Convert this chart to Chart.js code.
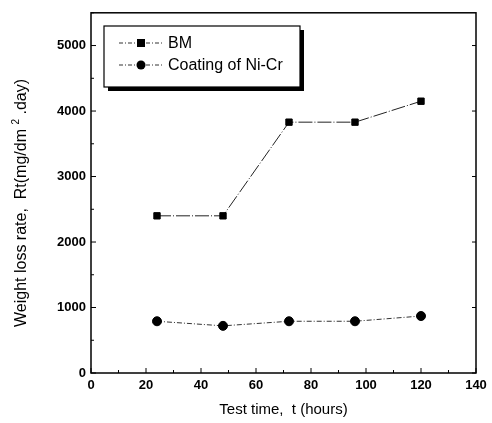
<!DOCTYPE html>
<html>
<head>
<meta charset="utf-8">
<script src="https://cdn.jsdelivr.net/npm/chart.js@4/dist/chart.umd.min.js"></script>
<style>
  html, body { margin: 0; padding: 0; background: #fff; }
  #wrap { width: 492px; height: 423px; }
</style>
</head>
<body>
<div id="wrap"><canvas id="chart" width="492" height="423"></canvas></div>
<script>
const hours = [24, 48, 72, 96, 120];
const bm = [2400, 2400, 3830, 3830, 4150];
const niCr = [790, 720, 790, 790, 870];
const seriesNames = ["BM", "Coating of Ni-Cr"];
const xTicks = [0, 20, 40, 60, 80, 100, 120, 140];
const yTicks = [0, 1000, 2000, 3000, 4000, 5000];

const FONT = "'Liberation Sans', Arial, sans-serif";

// inward tick marks, frame, axis titles and boxed legend
const decor = {
  id: "decor",
  afterDraw(chart) {
    const ctx = chart.ctx;
    const a = chart.chartArea;
    const xs = chart.scales.x;
    const ys = chart.scales.y;
    ctx.save();
    ctx.strokeStyle = "#000";
    ctx.lineWidth = 1.5;
    ctx.strokeRect(a.left, a.top, a.right - a.left, a.bottom - a.top);
    ctx.lineWidth = 1;
    ctx.beginPath();
    for (let i = 0; i < xTicks.length; i++) {
      const px = xs.getPixelForValue(xTicks[i]);
      ctx.moveTo(px, a.bottom); ctx.lineTo(px, a.bottom - 5);
      if (i < xTicks.length - 1) {
        const mx = xs.getPixelForValue((xTicks[i] + xTicks[i + 1]) / 2);
        ctx.moveTo(mx, a.bottom); ctx.lineTo(mx, a.bottom - 3);
      }
    }
    for (let i = 0; i < yTicks.length; i++) {
      const py = ys.getPixelForValue(yTicks[i]);
      ctx.moveTo(a.left, py); ctx.lineTo(a.left + 5, py);
      ctx.moveTo(a.right, py); ctx.lineTo(a.right - 4, py);
      const my = ys.getPixelForValue(yTicks[i] + 500);
      ctx.moveTo(a.left, my); ctx.lineTo(a.left + 3, my);
    }
    ctx.stroke();

    // y title
    ctx.fillStyle = "#000";
    ctx.translate(22, 203);
    ctx.rotate(-Math.PI / 2);
    ctx.font = "16px " + FONT;
    ctx.textBaseline = "middle";
    const p1 = "Weight loss rate,  Rt(mg/dm ";
    const p2 = "2";
    const p3 = " .day)";
    const w1 = ctx.measureText(p1).width;
    const w3 = ctx.measureText(p3).width;
    ctx.font = "10px " + FONT;
    const w2 = ctx.measureText(p2).width;
    let x0 = -(w1 + w2 + w3) / 2;
    ctx.font = "16px " + FONT;
    ctx.textAlign = "left";
    ctx.fillText(p1, x0, 0);
    ctx.font = "10px " + FONT;
    ctx.fillText(p2, x0 + w1, -6);
    ctx.font = "16px " + FONT;
    ctx.fillText(p3, x0 + w1 + w2, 0);
    ctx.restore();

    // legend
    ctx.save();
    const lx = 104, ly = 26, lw = 196, lh = 61;
    ctx.fillStyle = "#000";
    ctx.fillRect(lx + 4, ly + 4, lw, lh);
    ctx.fillStyle = "#fff";
    ctx.fillRect(lx, ly, lw, lh);
    ctx.strokeStyle = "#000";
    ctx.lineWidth = 1.2;
    ctx.strokeRect(lx, ly, lw, lh);
    const rows = [ly + 17, ly + 39];
    chart.data.datasets.forEach((ds, i) => {
      const ry = rows[i];
      ctx.strokeStyle = "#333";
      ctx.lineWidth = 1;
      ctx.setLineDash([4, 2, 1, 2]);
      ctx.beginPath();
      ctx.moveTo(119, ry); ctx.lineTo(163, ry);
      ctx.stroke();
      ctx.setLineDash([]);
      ctx.fillStyle = "#000";
      if (ds.pointStyle === "rect") {
        ctx.fillRect(137, ry - 4, 8, 8);
      } else {
        ctx.beginPath();
        ctx.arc(141, ry, 4.5, 0, Math.PI * 2);
        ctx.fill();
      }
      ctx.font = "16px " + FONT;
      ctx.textBaseline = "middle";
      ctx.textAlign = "left";
      ctx.fillText(ds.label, 168, ry + 1);
    });
    ctx.restore();
  }
};

new Chart(document.getElementById("chart").getContext("2d"), {
  type: "line",
  data: {
    datasets: [
      {
        label: seriesNames[0],
        data: hours.map((h, i) => ({ x: h, y: bm[i] })),
        borderColor: "#222",
        borderWidth: 1,
        borderDash: [14, 2, 1, 2],
        pointStyle: "rect",
        pointRadius: 4.5,
        pointBackgroundColor: "#000",
        pointBorderColor: "#000",
        tension: 0,
        fill: false,
      },
      {
        label: seriesNames[1],
        data: hours.map((h, i) => ({ x: h, y: niCr[i] })),
        borderColor: "#333",
        borderWidth: 1,
        borderDash: [5, 2, 1, 2],
        pointStyle: "circle",
        pointRadius: 4.5,
        pointBackgroundColor: "#000",
        pointBorderColor: "#000",
        tension: 0,
        fill: false,
      },
    ],
  },
  options: {
    responsive: false,
    animation: false,
    layout: { padding: { top: 5, right: 16, left: 0, bottom: 0 } },
    plugins: {
      legend: { display: false },
      tooltip: { enabled: false },
    },
    scales: {
      x: {
        type: "linear",
        min: 0,
        max: 140,
        grid: { display: false, drawTicks: false },
        border: { display: false },
        afterFit: (s) => { s.height = 50; },
        afterBuildTicks: (s) => { s.ticks = xTicks.map((v) => ({ value: v })); },
        ticks: {
          padding: 5,
          color: "#000",
          font: { family: FONT, size: 13, weight: "bold" },
          callback: (v) => String(v),
        },
        title: {
          display: true,
          text: "Test time,  t (hours)",
          color: "#000",
          font: { family: FONT, size: 15 },
          padding: { top: 8 },
        },
      },
      y: {
        type: "linear",
        min: 0,
        max: 5500,
        grid: { display: false, drawTicks: false },
        border: { display: false },
        afterFit: (s) => { s.width = 91; },
        afterBuildTicks: (s) => { s.ticks = yTicks.map((v) => ({ value: v })); },
        ticks: {
          padding: 5,
          color: "#000",
          font: { family: FONT, size: 13, weight: "bold" },
          callback: (v) => String(v),
        },
      },
    },
  },
  plugins: [decor],
});
</script>
</body>
</html>
